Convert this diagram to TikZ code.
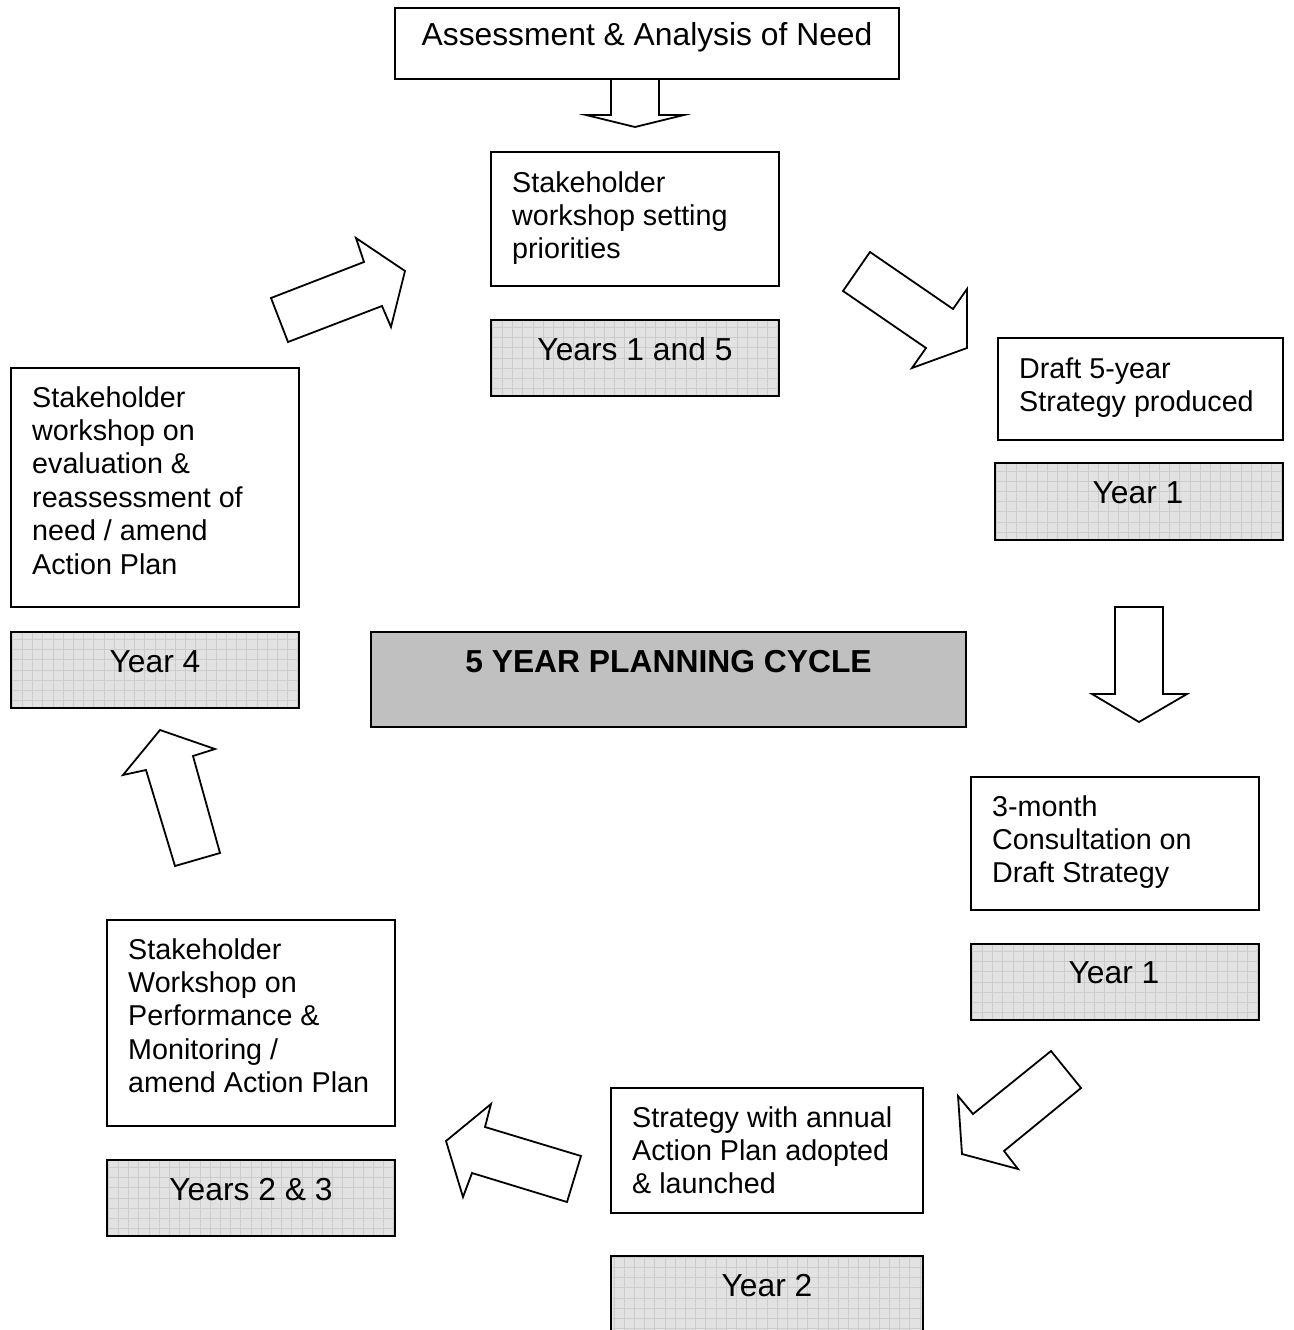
\documentclass[tikz,border=0pt]{standalone}
\usepackage{fontspec}
\setmainfont{Liberation Sans}
\definecolor{boxfill}{RGB}{226,226,226}
\definecolor{gridc}{RGB}{204,204,204}
\definecolor{titlefill}{RGB}{192,192,192}
\newcommand{\normsize}{\fontsize{28.7pt}{33.4pt}\selectfont}
\newcommand{\bigsize}{\fontsize{31.8pt}{36pt}\selectfont}
\begin{document}
\begin{tikzpicture}[x=1pt,y=-1pt,
  box/.style={draw=black, line width=1.8pt, fill=white, inner sep=0pt},
  gbox/.style={draw=black, line width=1.8pt, fill=boxfill, inner sep=0pt,
    path picture={\draw[gridc, line width=0.8pt]
      ([xshift=-20pt,yshift=-20pt]path picture bounding box.south west)
      grid[step=10.2pt]
      ([xshift=20pt,yshift=20pt]path picture bounding box.north east);}},
  tbox/.style={draw=black, line width=1.8pt, fill=titlefill, inner sep=0pt},
  txt/.style={inner sep=0pt, font=\normsize},
  bigtxt/.style={inner sep=0pt, font=\bigsize},
  barrow/.style={draw=black, fill=white, line width=1.8pt, line join=miter}
]
\fill[white] (0,0) rectangle (1293,1330);
\useasboundingbox (0,0) rectangle (1293,1330);
\clip (0,0) rectangle (1293,1330);

% block arrows
\draw[barrow] (611,79) -- (611,115) -- (586,115) -- (635,127) -- (684,115) -- (659,115) -- (659,79);
\draw[barrow] (271,298) -- (364,262) -- (356,238) -- (405,271) -- (391,327) -- (382,306) -- (288,342) -- cycle;
\draw[barrow] (870,252) -- (953,309) -- (967,289) -- (967,348) -- (912,368) -- (926,348) -- (843,291) -- cycle;
\draw[barrow] (1115,607) -- (1163,607) -- (1163,694) -- (1187,694) -- (1139,722) -- (1092,694) -- (1115,694) -- cycle;
\draw[barrow] (1051,1051) -- (1081,1088) -- (1004,1151) -- (1018,1169) -- (962,1154) -- (958,1096) -- (973,1114) -- cycle;
\draw[barrow] (491,1104) -- (485,1127) -- (581,1156) -- (567,1202) -- (472,1173) -- (463,1197) -- (446,1141) -- cycle;
\draw[barrow] (160,730) -- (215,749) -- (193,756) -- (220,853) -- (175,866) -- (146,770) -- (123,775) -- cycle;

% boxes
\node[box, minimum width=504pt, minimum height=71pt] (b0) at (647,43.5) {};
\node[box, minimum width=288pt, minimum height=134pt] (b1) at (635,219) {};
\node[gbox, minimum width=288pt, minimum height=76pt] (g1) at (635,358) {};
\node[box, minimum width=285pt, minimum height=102pt] (b2) at (1140.5,389) {};
\node[gbox, minimum width=288pt, minimum height=77pt] (g2) at (1139,501.5) {};
\node[box, minimum width=288pt, minimum height=133pt] (b3) at (1115,843.5) {};
\node[gbox, minimum width=288pt, minimum height=76pt] (g3) at (1115,982) {};
\node[box, minimum width=312pt, minimum height=125pt] (b4) at (767,1150.5) {};
\node[gbox, minimum width=312pt, minimum height=84pt] (g4) at (767,1298) {};
\node[box, minimum width=288pt, minimum height=206pt] (b5) at (251,1023) {};
\node[gbox, minimum width=288pt, minimum height=76pt] (g5) at (251,1198) {};
\node[box, minimum width=288pt, minimum height=239pt] (b6) at (155,487.5) {};
\node[gbox, minimum width=288pt, minimum height=76pt] (g6) at (155,670) {};
\node[tbox, minimum width=595pt, minimum height=95pt] (c) at (668.5,679.5) {};

% texts
\node[bigtxt, anchor=base] (t0) at (647,46) {Assessment \& Analysis of Need};
\node[txt, anchor=base west] (t1) at (512,192) {\parbox[t]{300pt}{Stakeholder\\workshop setting\\priorities}};
\node[bigtxt, anchor=base] (tg1) at (635,360) {Years 1 and 5};
\node[txt, anchor=base west] (t2) at (1019,378) {\parbox[t]{300pt}{Draft 5-year\\Strategy produced}};
\node[bigtxt, anchor=base] (tg2) at (1138,503) {Year 1};
\node[txt, anchor=base west] (t3) at (992,816) {\parbox[t]{300pt}{3-month\\Consultation on\\Draft Strategy}};
\node[bigtxt, anchor=base] (tg3) at (1114,983) {Year 1};
\node[txt, anchor=base west] (t4) at (632,1127) {\parbox[t]{300pt}{Strategy with annual\\Action Plan adopted\\\& launched}};
\node[bigtxt, anchor=base] (tg4) at (767,1296) {Year 2};
\node[txt, anchor=base west] (t5) at (128,959) {\parbox[t]{300pt}{Stakeholder\\Workshop on\\Performance \&\\Monitoring /\\amend Action Plan}};
\node[bigtxt, anchor=base] (tg5) at (251,1200) {Years 2 \& 3};
\node[txt, anchor=base west] (t6) at (32,407) {\parbox[t]{300pt}{Stakeholder\\workshop on\\evaluation \&\\reassessment of\\need / amend\\Action Plan}};
\node[bigtxt, anchor=base] (tg6) at (155,672) {Year 4};
\node[bigtxt, anchor=base, font=\bigsize\bfseries] (tc) at (668.5,672) {5 YEAR PLANNING CYCLE};
\end{tikzpicture}
\end{document}
